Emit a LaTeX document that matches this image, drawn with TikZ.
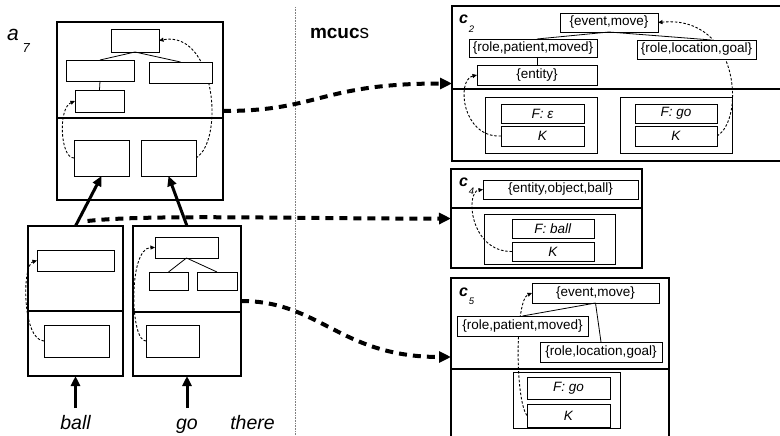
\documentclass[tikz,border=0pt]{standalone}
\usepackage{fontspec}
\setmainfont{Liberation Sans}
\usetikzlibrary{arrows.meta,calc}
\pgfdeclarelayer{back}
\pgfsetlayers{back,main}

% box from its corners: \bx[style]{name}{x1}{y1}{x2}{y2}{text}
\newcommand\bx[7][]{%
  \node[#1, minimum width={(#5-#3)*1pt}, minimum height={(#6-#4)*1pt}]
    (#2) at ({(#3+#5)/2},{(#4+#6)/2}) {#7};}
% bold italic c with a lowered index
\newcommand\cidx[1]{c\hspace{1pt}\raisebox{-8.5pt}{\fontsize{9.5}{10}\selectfont\mdseries #1}}

\tikzset{
  frame/.style={draw, line width=1.4pt, inner sep=0pt, outer sep=0pt},
  grp/.style={draw, line width=0.9pt, inner sep=0pt, outer sep=0pt},
  slot/.style={draw, fill=white, line width=0.9pt, inner sep=0pt, outer sep=0pt,
    font=\fontsize{13.5}{16}\selectfont},
  branch/.style={line width=0.8pt},
  link/.style={line width=0.9pt, dash pattern=on 2.5pt off 1.8pt,
    -{Triangle[length=4.5pt,width=4pt]}},
  bind/.style={line width=4pt, dash pattern=on 8pt off 6pt,
    -{Triangle[length=12pt,width=11pt]}},
  lift/.style={line width=3pt, -{Triangle[length=10pt,width=9pt]}},
  word/.style={inner sep=0pt, outer sep=0pt, text height=14pt, text depth=4pt,
    font=\fontsize{19.5}{22}\selectfont\itshape},
  tag/.style={inner sep=0pt, outer sep=0pt, anchor=base west},
  ctag/.style={tag, font=\fontsize{16}{16}\selectfont\bfseries\itshape},
}

\begin{document}
\begin{tikzpicture}[x=1pt, y=-1pt]
\useasboundingbox (0,0) rectangle (780,436);
\clip (0,0) rectangle (780,436);

% dotted separator
\coordinate (septop) at (295,7);
\coordinate (sepbot) at (295,440);
\draw[gray, line width=0.7pt, dash pattern=on 0.8pt off 0.8pt] (septop) -- (sepbot);

% ---------- a_7 and its parts ----------
\node[tag, font=\fontsize{21}{21}\selectfont\itshape] (a7lab) at (7,41)
  {a\hspace{4pt}\raisebox{-12pt}{\fontsize{13}{13}\selectfont 7}};
\node[tag, font=\fontsize{19}{22}\selectfont] (mc) at (310,39) {\textbf{mcuc}s};

\bx[frame]{A7}{57}{22}{223}{200}{}
\coordinate (a7div) at (0,118);
\draw[line width=1.4pt] (A7.west |- a7div) -- (A7.east |- a7div);
\bx[slot]{a7top}{111}{29}{159}{52}{}
\bx[slot]{a7l}{66}{60}{134}{81}{}
\bx[slot]{a7r}{149}{62}{212}{83}{}
\bx[slot]{a7ll}{75}{90}{124}{112}{}
\bx[slot]{a7b1}{74}{140}{129}{176}{}
\bx[slot]{a7b2}{141}{140}{196}{176}{}
\draw[branch] (a7top.south) -- (a7l.north);
\draw[branch] (a7top.south) -- (a7r.north);
\draw[branch] (a7l.south) -- (a7ll.north);

% ball
\bx[frame]{Bb}{28}{226}{123}{376}{}
\coordinate (bdiv) at (0,311);
\draw[line width=1.4pt] (Bb.west |- bdiv) -- (Bb.east |- bdiv);
\bx[slot]{bt}{37}{250}{114}{271}{}
\bx[slot]{bb}{44}{325}{109}{357}{}

% go
\bx[frame]{Gb}{133}{226}{241}{376}{}
\coordinate (gdiv) at (0,312);
\draw[line width=1.4pt] (Gb.west |- gdiv) -- (Gb.east |- gdiv);
\bx[slot]{gt}{155}{237}{218}{258}{}
\bx[slot]{gs1}{149}{272}{188}{290}{}
\bx[slot]{gs2}{197}{272}{237}{290}{}
\bx[slot]{gb}{146}{325}{199}{357}{}
\draw[branch] (gt.south) -- (gs1.north);
\draw[branch] (gt.south) -- (gs2.north);

% words
\node[word, anchor=base] (ball) at (75.5,429.5) {ball};
\node[word, anchor=base] (go) at (187,429.5) {go};
\node[word, anchor=base] (there) at (252.5,429.5) {there};

% ---------- c_2 ----------
\bx[frame]{C2}{452}{6}{800}{161}{}
\coordinate (c2div) at (0,89);
\draw[line width=1.4pt] (C2.west |- c2div) -- (C2.east |- c2div);
\node[ctag] (c2lab) at (459,24) {\cidx{2}};
\bx[slot]{em2}{560}{13}{658}{32}{\{event,move\}}
\bx[slot]{pm2}{469}{39}{597}{57}{\{role,patient,moved\}}
\bx[slot]{lg2}{637}{40}{756}{59}{\{role,location,goal\}}
\bx[slot]{en2}{477}{65}{597}{85}{\{entity\}}
\bx[grp]{g2a}{485}{97}{597}{153}{}
\bx[slot]{f2a}{501}{104}{584}{123}{\textit{F: ε}}
\bx[slot]{k2a}{501}{126}{584}{146}{\textit{K}}
\bx[grp]{g2b}{620}{97}{732}{153}{}
\bx[slot]{f2b}{635}{104}{717}{123}{\textit{F: go}}
\bx[slot]{k2b}{635}{126}{717}{146}{\textit{K}}
\draw[branch] (em2.south) -- (pm2.north -| 537,0);
\draw[branch] (em2.south) -- ([xshift=15pt]lg2.north);
\draw[branch] (pm2.south -| 537,0) -- (en2.north -| 537,0);

% ---------- c_4 ----------
\bx[frame]{C4}{451}{169}{642}{268}{}
\coordinate (c4div) at (0,208);
\draw[line width=1.4pt] (C4.west |- c4div) -- (C4.east |- c4div);
\node[ctag] (c4lab) at (459,186) {\cidx{4}};
\bx[slot]{eob}{483}{180}{638}{199}{\{entity,object,ball\}}
\bx[grp]{g4}{484}{214}{615}{264}{}
\bx[slot]{f4}{512}{219}{594}{238}{\textit{F: ball}}
\bx[slot]{k4}{512}{242}{594}{261}{\textit{K}}

% ---------- c_5 ----------
\bx[frame]{C5}{451}{278}{669}{446}{}
\coordinate (c5div) at (0,369);
\draw[line width=1.4pt] (C5.west |- c5div) -- (C5.east |- c5div);
\node[ctag] (c5lab) at (459,296) {\cidx{5}};
\bx[slot]{em5}{532}{283}{659}{303}{\{event,move\}}
\bx[slot]{pm5}{457}{316}{588}{336}{\{role,patient,moved\}}
\bx[slot]{lg5}{540}{342}{662}{362}{\{role,location,goal\}}
\bx[grp]{g5}{513}{372}{620}{428}{}
\bx[slot]{f5}{527}{377}{610}{399}{\textit{F: go}}
\bx[slot]{k5}{527}{404}{610}{427}{\textit{K}}
\draw[branch] (em5.south) -- (pm5.north);
\draw[branch] (em5.south) -- (lg5.north);
\coordinate (c5in) at (451,357);

% ---------- thin dashed links, behind the slots ----------
\begin{pgfonlayer}{back}
\draw[link] (a7b1.west) .. controls (60,158) and (58,108) .. (a7ll.west);
\draw[link] (a7b2.east) .. controls (225,140) and (215,30) .. (a7top.east);
\draw[link] (bb.west) .. controls (22,340) and (22,265) .. (bt.west);
\draw[link] (gb.west) .. controls (130,342) and (128,248) .. (gt.west);
\draw[link] (k2a.west) .. controls (462,138) and (456,80) .. (en2.west);
\draw[link] (k2b.east) .. controls (745,120) and (740,15) .. (em2.east);
\draw[link] (k4.west) .. controls (470,252) and (465,192) .. (eob.west);
\draw[link] (k5.west) .. controls (515,400) and (515,300) .. (em5.west);
\end{pgfonlayer}

% ---------- solid lifts ----------
\draw[lift, shorten <=7.5pt] (ball.north) -- (Bb.south);
\draw[lift, shorten <=7.5pt] (go.north) -- (Gb.south);
\draw[lift] (Bb.north) -- (a7b1.south);
\draw[lift] (Gb.north) -- (a7b2.south);

% ---------- thick dashed bindings ----------
\draw[bind] (A7.east) .. controls (320,111) and (320,83.5) .. (C2.west);
\draw[bind] ([shift={(12pt,5pt)}]Bb.north) .. controls (150,214) and (300,219) .. (C4.west);
\draw[bind] (Gb.east) .. controls (320,301) and (340,357) .. (c5in);
\end{tikzpicture}
\end{document}
